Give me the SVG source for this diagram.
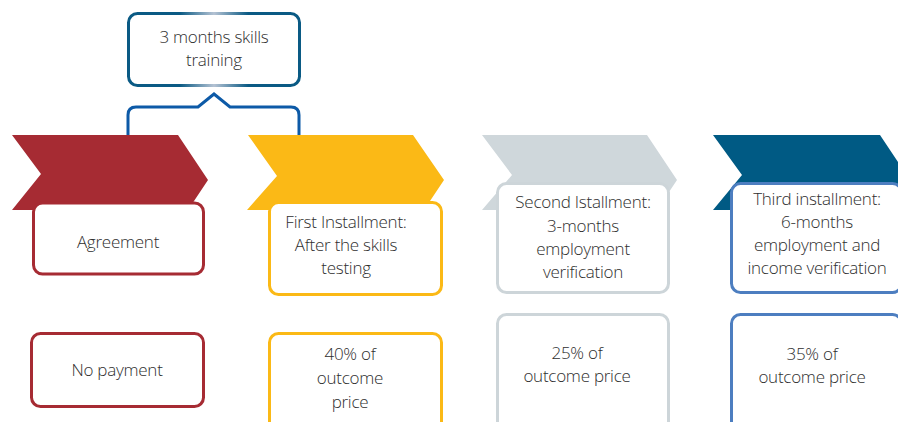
<svg xmlns="http://www.w3.org/2000/svg" width="898" height="422" viewBox="0 0 898 422">
<defs>
<linearGradient id="topg" x1="0" y1="0" x2="1" y2="0">
<stop offset="0" stop-color="#0a5a84"/>
<stop offset="0.3" stop-color="#0a5a84"/>
<stop offset="0.5" stop-color="#b4c2d3"/>
<stop offset="0.7" stop-color="#0a5a84"/>
<stop offset="1" stop-color="#0a5a84"/>
</linearGradient>
</defs>
<style>
.box{fill:#fff;stroke-width:3}
.red{stroke:#a62b33}
.yel{stroke:#fbb916}
.gry{stroke:#cdd5d9}
.blu{stroke:#4d7ec0}
text{font-family:"Open Sans","Liberation Sans",sans-serif;font-size:17px;letter-spacing:-0.25px;font-weight:300;fill:#2e2e2e;text-anchor:middle}
</style>
<rect width="898" height="422" fill="#fff"/>
<g id="connectors">
<path d="M128,135 V115 Q128,107 136,107 H198 L214,94 L230,107 H291 Q299,107 299,115 V135" fill="none" stroke="#0d5aa7" stroke-width="3"/>
</g>
<g id="training">
<rect x="128.5" y="13.5" width="171" height="72" rx="9" fill="#fff" stroke="url(#topg)" stroke-width="3"/>
<text x="214" y="43">3 months skills</text>
<text x="214" y="66">training</text>
</g>
<g id="chevron-red"><path d="M12,135 H178 L208,180 L188,210 H12 L41,174 Z" fill="#a62b33"/></g>
<g id="chevron-yellow"><path d="M248,135 H413 L444,180 L424,210 H247 L277,176 Z" fill="#fbb916"/></g>
<g id="chevron-gray"><path d="M482,135 H647 L677,180 L657,210 H482 L512,175 Z" fill="#cfd7db"/></g>
<g id="chevron-blue"><path d="M713,135 H880 L910,180 L890,210 H713 L742,175 Z" fill="#005a84"/></g>
<g id="agreement">
<rect class="box red" x="33.5" y="203" width="170" height="71" rx="9"/>
<text x="118" y="248">Agreement</text>
</g>
<g id="first">
<rect class="box yel" x="269.5" y="202.5" width="172" height="92" rx="9"/>
<text x="346" y="228">First Installment:</text>
<text x="346" y="251">After the skills</text>
<text x="346" y="274">testing</text>
</g>
<g id="second">
<rect class="box gry" x="497.5" y="183.5" width="171" height="109" rx="9"/>
<text x="583" y="208">Second Istallment:</text>
<text x="583" y="232">3-months</text>
<text x="583" y="255">employment</text>
<text x="583" y="278">verification</text>
</g>
<g id="third">
<rect class="box blu" x="731.5" y="183.5" width="170" height="109" rx="9"/>
<text x="817" y="205">Third installment:</text>
<text x="817" y="228">6-months</text>
<text x="817" y="251">employment and</text>
<text x="817" y="274">income verification</text>
</g>
<g id="nopay">
<rect class="box red" x="31.5" y="333.5" width="172" height="73" rx="9"/>
<text x="117" y="376">No payment</text>
</g>
<g id="p40">
<rect class="box yel" x="269.5" y="333.5" width="172" height="100" rx="9"/>
<text x="350" y="360">40% of</text>
<text x="350" y="384">outcome</text>
<text x="350" y="408">price</text>
</g>
<g id="p25">
<rect class="box gry" x="497.5" y="314.5" width="171" height="120" rx="9"/>
<text x="577" y="359">25% of</text>
<text x="577" y="382">outcome price</text>
</g>
<g id="p35">
<rect class="box blu" x="731.5" y="314.5" width="170" height="120" rx="9"/>
<text x="812" y="360">35% of</text>
<text x="812" y="383">outcome price</text>
</g>
</svg>
